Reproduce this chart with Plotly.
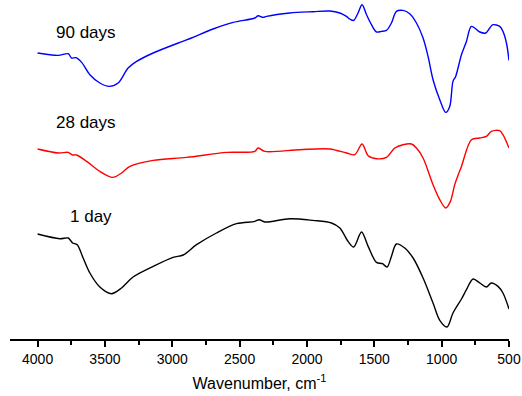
import plotly.graph_objects as go

# FTIR spectra (transmittance, arbitrary units, vertically offset per curing age)
wn_90 = [4000, 3847, 3773, 3748, 3716, 3673, 3612, 3538, 3469, 3402, 3328, 3265, 3142,
         2944, 2857, 2697, 2548, 2387, 2363, 2326, 2300, 2128, 1955, 1831, 1756, 1707,
         1682, 1653, 1621, 1591, 1558, 1521, 1484, 1447, 1410, 1373, 1336, 1287, 1237,
         1187, 1138, 1101, 1064, 1014, 970, 940, 916, 896, 853, 816, 779, 717, 673, 643,
         619, 569, 545, 519, 500]
t_90 = [286, 283.6, 285.3, 281, 281.3, 276.6, 264.3, 256, 252.6, 256, 271, 277.6, 286,
        296.6, 301, 310, 316.6, 321, 323.3, 321.6, 322.6, 326, 327.3, 328, 326, 322.6,
        320, 318.6, 326, 334.3, 324.3, 314.3, 307, 307.6, 308.6, 316, 327.6, 328.6, 325.3,
        316, 301, 282.6, 259.3, 239.3, 226.6, 232.6, 257.6, 262.6, 284.3, 297.6, 312.6,
        307, 306, 311, 314.3, 312.6, 307.6, 296, 278.6]

wn_28 = [4000, 3847, 3773, 3740, 3711, 3636, 3538, 3443, 3377, 3315, 3142, 2894, 2597,
         2387, 2363, 2313, 2053, 1831, 1707, 1645, 1591, 1546, 1484, 1410, 1348, 1287,
         1224, 1187, 1138, 1064, 1014, 970, 935, 903, 853, 779, 717, 668, 631, 569, 545,
         500]
t_28 = [190, 186, 186.6, 184, 184, 177.6, 167.6, 161.6, 166, 172.6, 178.6, 181.6, 186.6,
        187.6, 191, 187.6, 189.3, 190, 186, 184.3, 195, 183.3, 180.3, 181.6, 191, 194.3,
        195, 191, 181, 154.3, 139.3, 131, 137.6, 154.3, 172.6, 199.3, 201, 202.6, 207.6,
        208.3, 204.3, 191]

wn_1 = [4000, 3835, 3773, 3740, 3706, 3662, 3612, 3538, 3451, 3377, 3291, 3142, 2994,
        2919, 2820, 2672, 2523, 2387, 2355, 2313, 2128, 1955, 1818, 1756, 1695, 1653,
        1595, 1546, 1484, 1440, 1405, 1373, 1336, 1274, 1212, 1138, 1064, 1014, 960,
        916, 853, 816, 767, 717, 668, 631, 582, 545, 500]
t_1 = [105, 100.3, 101, 96, 94.3, 81, 66, 52, 45.3, 51, 62, 72.6, 81.6, 84, 94.3, 106,
       115.3, 117.6, 119.3, 117, 120.3, 118.6, 116, 111, 97.6, 92, 107, 92.6, 76.6, 75.3,
       72, 82.6, 95, 91, 81, 61, 36, 18.6, 12, 26, 40, 49.3, 60, 56, 52, 56, 52.6, 46, 30]

labels = ["90 days", "28 days", "1 day"]
label_wn = [3641, 3641, 3604]
label_t = [307, 217, 122.6]
colors = ["#0000FF", "#FF0000", "#000000"]

tick_vals = [4000, 3500, 3000, 2500, 2000, 1500, 1000, 500]

FONT = "Arial, 'Liberation Sans', sans-serif"

fig = go.Figure()
for wn, t, c in [(wn_90, t_90, colors[0]), (wn_28, t_28, colors[1]), (wn_1, t_1, colors[2])]:
    fig.add_trace(go.Scatter(x=wn, y=t, mode="lines",
                             line=dict(color=c, width=1.4, shape="spline", smoothing=0.9),
                             showlegend=False, hoverinfo="skip"))

for txt, xv, yv in zip(labels, label_wn, label_t):
    fig.add_annotation(x=xv, y=yv, xref="x", yref="y", text=txt, showarrow=False,
                       font=dict(family=FONT, size=17, color="#000000"))

fig.update_layout(
    width=522, height=396,
    margin=dict(l=10, r=13, t=0, b=57),
    paper_bgcolor="white", plot_bgcolor="white",
    font=dict(family=FONT, color="#000000"),
    xaxis=dict(
        range=[4205, 500], tickvals=tick_vals, ticktext=[str(v) for v in tick_vals],
        ticks="outside", ticklen=6, tickwidth=1.5, tickcolor="#000000",
        minor=dict(dtick=250, tick0=0, ticks="outside", ticklen=3.5, tickwidth=1.5,
                   tickcolor="#000000", showgrid=False),
        showline=True, linecolor="#000000", linewidth=2,
        showgrid=False, zeroline=False,
        tickfont=dict(family=FONT, size=14, color="#000000"),
        title=dict(text="Wavenumber, cm<sup>-1</sup>", standoff=12,
                   font=dict(family=FONT, size=16, color="#000000")),
    ),
    yaxis=dict(range=[0, 339], visible=False, showgrid=False, zeroline=False),
)

fig.write_html("out.html")
